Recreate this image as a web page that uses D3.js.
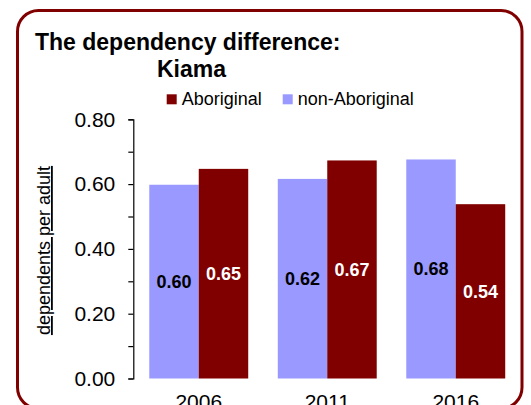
<!DOCTYPE html>
<html>
<head>
<meta charset="utf-8">
<script src="https://cdn.jsdelivr.net/npm/d3@7"></script>
<style>
  body { margin: 0; background: #fff; }
  svg text { font-family: "Liberation Sans", Arial, sans-serif; }
</style>
</head>
<body>
<div id="chart"></div>
<script>
// data
const years = ["2006", "2011", "2016"];
const seriesNames = ["non-Aboriginal", "Aboriginal"];
const nonAboriginal = [0.598, 0.616, 0.676];
const aboriginal = [0.647, 0.673, 0.538];
const yTicks = [0, 0.2, 0.4, 0.6, 0.8];

const width = 531,
  height = 405;

const colors = { "Aboriginal": "#800000", "non-Aboriginal": "#9999ff" };

const svg = d3
  .select("#chart")
  .append("svg")
  .attr("width", width)
  .attr("height", height);

// rounded frame
svg
  .append("rect")
  .attr("x", 17.5)
  .attr("y", 10.5)
  .attr("width", 504.5)
  .attr("height", 398)
  .attr("rx", 21)
  .attr("fill", "none")
  .attr("stroke", "#800000")
  .attr("stroke-width", 3);

// title
svg
  .append("text")
  .attr("x", 35)
  .attr("y", 50)
  .attr("font-size", 23)
  .attr("font-weight", "bold")
  .text("The dependency difference:");

svg
  .append("text")
  .attr("x", 157)
  .attr("y", 77)
  .attr("font-size", 23)
  .attr("font-weight", "bold")
  .text("Kiama");

// legend
const legendItems = [
  { name: "Aboriginal", x: 166.7 },
  { name: "non-Aboriginal", x: 282.7 },
];
const legend = svg
  .selectAll("g.legend")
  .data(legendItems)
  .join("g")
  .attr("class", "legend")
  .attr("transform", (d) => `translate(${d.x},94.3)`);

legend
  .append("rect")
  .attr("width", 10)
  .attr("height", 10)
  .attr("fill", (d) => colors[d.name]);

legend
  .append("text")
  .attr("x", 15)
  .attr("y", 10.3)
  .attr("font-size", 18)
  .text((d) => d.name);

// scales
const y = d3.scaleLinear().domain([0, 0.8]).range([378.5, 119.3]);

const x0 = d3
  .scaleBand()
  .domain(years)
  .range([134.5, 520])
  .paddingInner(0.23)
  .paddingOuter(0.115);

const x1 = d3
  .scaleBand()
  .domain(seriesNames)
  .range([0, x0.bandwidth()]);

// y axis
const axisX = 133.3;
const yAxis = svg
  .append("g")
  .attr("transform", `translate(${axisX},0)`)
  .call(
    d3
      .axisLeft(y)
      .tickValues(d3.range(0, 0.81, 0.1))
      .tickSize(5)
      .tickFormat((d) =>
        yTicks.some((t) => Math.abs(t - d) < 1e-6) ? d3.format(".2f")(d) : ""
      )
  );
yAxis.select(".domain").attr("stroke", "#000").attr("stroke-width", 1.2);
yAxis.selectAll(".tick line").attr("stroke", "#000").attr("stroke-width", 1.2);
yAxis
  .selectAll(".tick text")
  .attr("x", -18)
  .attr("font-size", 21)
  .attr("font-family", '"Liberation Sans", Arial, sans-serif')
  .attr("fill", "#000");

// y axis title
svg
  .append("text")
  .attr("transform", `translate(50,250.5) rotate(-90)`)
  .attr("text-anchor", "middle")
  .attr("font-size", 18)
  .attr("text-decoration", "underline")
  .text("dependents per adult");

// bars
const rows = years.map((year, i) => ({
  year,
  values: [
    { name: "non-Aboriginal", value: nonAboriginal[i] },
    { name: "Aboriginal", value: aboriginal[i] },
  ],
}));

const groups = svg
  .selectAll("g.year")
  .data(rows)
  .join("g")
  .attr("class", "year")
  .attr("transform", (d) => `translate(${x0(d.year)},0)`);

groups
  .selectAll("rect")
  .data((d) => d.values)
  .join("rect")
  .attr("x", (d) => x1(d.name))
  .attr("y", (d) => y(d.value))
  .attr("width", x1.bandwidth())
  .attr("height", (d) => y(0) - y(d.value))
  .attr("fill", (d) => colors[d.name]);

groups
  .selectAll("text.val")
  .data((d) => d.values)
  .join("text")
  .attr("class", "val")
  .attr("x", (d) => x1(d.name) + x1.bandwidth() / 2)
  .attr("y", (d) => (y(d.value) + y(0)) / 2)
  .attr("dy", "0.36em")
  .attr("text-anchor", "middle")
  .attr("font-size", 18)
  .attr("font-weight", "bold")
  .attr("fill", (d) => (d.name === "Aboriginal" ? "#fff" : "#000"))
  .text((d) => d3.format(".2f")(d.value));

// x labels
svg
  .selectAll("text.year-label")
  .data(years)
  .join("text")
  .attr("class", "year-label")
  .attr("x", (d) => x0(d) + x0.bandwidth() / 2)
  .attr("y", 408.5)
  .attr("text-anchor", "middle")
  .attr("font-size", 21)
  .text((d) => d);
</script>
</body>
</html>
